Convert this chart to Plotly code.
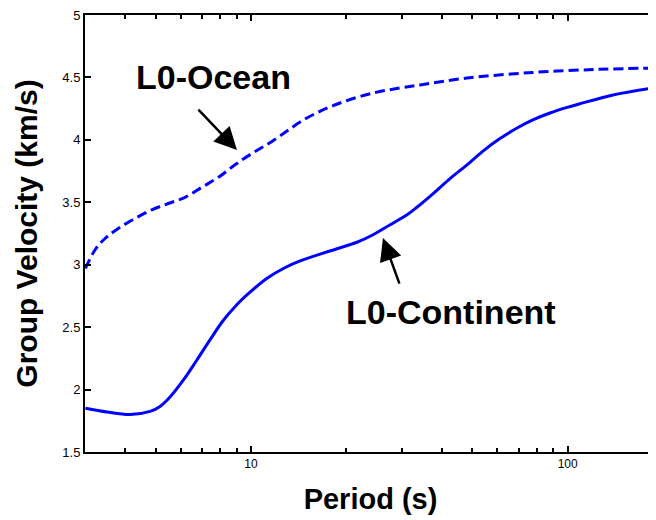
import numpy as np
import plotly.graph_objects as go

# Data
period_cont = [3.0, 3.51, 4.15, 4.80, 5.16, 5.55, 6.11, 6.74, 7.43, 8.18, 9.02, 9.93, 11.21, 12.65, 14.29, 17.74, 21.6, 24.3, 27.5, 31.1, 33.4, 37.6, 42.5, 48.1, 54.0, 61.1, 69.2, 77.6, 87.9, 99.6, 109.5, 139, 190]
vel_cont = [1.85, 1.82, 1.80, 1.825, 1.865, 1.94, 2.075, 2.235, 2.40, 2.555, 2.68, 2.78, 2.89, 2.97, 3.03, 3.11, 3.18, 3.24, 3.32, 3.40, 3.46, 3.57, 3.69, 3.80, 3.91, 4.01, 4.095, 4.16, 4.215, 4.26, 4.29, 4.36, 4.42]

period_ocean = [3.0, 3.22, 3.46, 3.81, 4.30, 4.86, 5.48, 6.19, 6.99, 7.89, 8.90, 10.05, 11.61, 15.0, 19.1, 24.3, 29.5, 34.2, 48.1, 77.6, 126, 190]
vel_ocean = [2.97, 3.12, 3.21, 3.29, 3.37, 3.44, 3.49, 3.54, 3.62, 3.70, 3.80, 3.89, 3.985, 4.175, 4.295, 4.375, 4.415, 4.44, 4.495, 4.54, 4.565, 4.575]

x_major = [10, 100]
x_major_labels = ["10", "100"]
x_minor = [3, 4, 5, 6, 7, 8, 9, 20, 30, 40, 50, 60, 70, 80, 90, 200]
y_ticks = [1.5, 2, 2.5, 3, 3.5, 4, 4.5, 5]
y_labels = ["1.5", "2", "2.5", "3", "3.5", "4", "4.5", "5"]

FONT = "Arial, 'Liberation Sans', sans-serif"
BLUE = "#0000ff"

fig = go.Figure()
fig.add_trace(go.Scatter(x=period_ocean, y=vel_ocean, mode="lines",
                         line=dict(color=BLUE, width=3, dash="10px,5px", shape="spline"),
                         showlegend=False))
fig.add_trace(go.Scatter(x=period_cont, y=vel_cont, mode="lines",
                         line=dict(color=BLUE, width=3, shape="spline"),
                         showlegend=False))

# annotation text
fig.add_annotation(x=np.log10(7.59), y=4.503, text="<b>L0-Ocean</b>", showarrow=False,
                   xanchor="center", yanchor="middle", font=dict(family=FONT, size=34, color="black"))
fig.add_annotation(x=np.log10(42.8), y=2.62, text="<b>L0-Continent</b>", showarrow=False,
                   xanchor="center", yanchor="middle", font=dict(family=FONT, size=34, color="black"))
# arrows
fig.add_annotation(x=np.log10(9.03), y=3.918, ax=-40, ay=-42, text="", showarrow=True,
                   arrowhead=2, arrowsize=1.8, arrowwidth=2.5, arrowcolor="black")
fig.add_annotation(x=np.log10(26.1), y=3.213, ax=17, ay=47, text="", showarrow=True,
                   arrowhead=2, arrowsize=1.8, arrowwidth=2.5, arrowcolor="black")

# page body has an 8px margin: the figure is sized and offset to compensate
fig.update_layout(
    width=648, height=512,
    margin=dict(l=77, r=0, t=7, b=68),
    paper_bgcolor="white", plot_bgcolor="white",
    font=dict(family=FONT, color="black"),
    xaxis=dict(type="log", range=[0.4758, 2.2788], automargin=False,
               tickmode="array", tickvals=x_major, ticktext=x_major_labels,
               ticks="inside", ticklen=6, tickwidth=1.5, tickcolor="black",
               showline=True, linecolor="black", linewidth=2, mirror="ticks",
               showgrid=False, zeroline=False, ticklabeloverflow="allow",
               tickfont=dict(size=12, family=FONT),
               minor=dict(tickmode="array", tickvals=x_minor, ticks="inside", ticklen=4, tickwidth=1.5,
                          tickcolor="black", showgrid=False),
               title=dict(text="<b>Period (s)</b>", font=dict(size=29, family=FONT), standoff=18)),
    yaxis=dict(range=[1.5, 5], automargin=False, tickmode="array", tickvals=y_ticks, ticktext=y_labels,
               ticks="inside", ticklen=6, tickwidth=1.5, tickcolor="black",
               showline=True, linecolor="black", linewidth=2,
               showgrid=False, zeroline=False, ticklabeloverflow="allow",
               tickfont=dict(size=13, family=FONT),
               title=dict(text="<b>Group Velocity (km/s)</b>", font=dict(size=30, family=FONT), standoff=16)),
)

fig.write_html("out.html")
